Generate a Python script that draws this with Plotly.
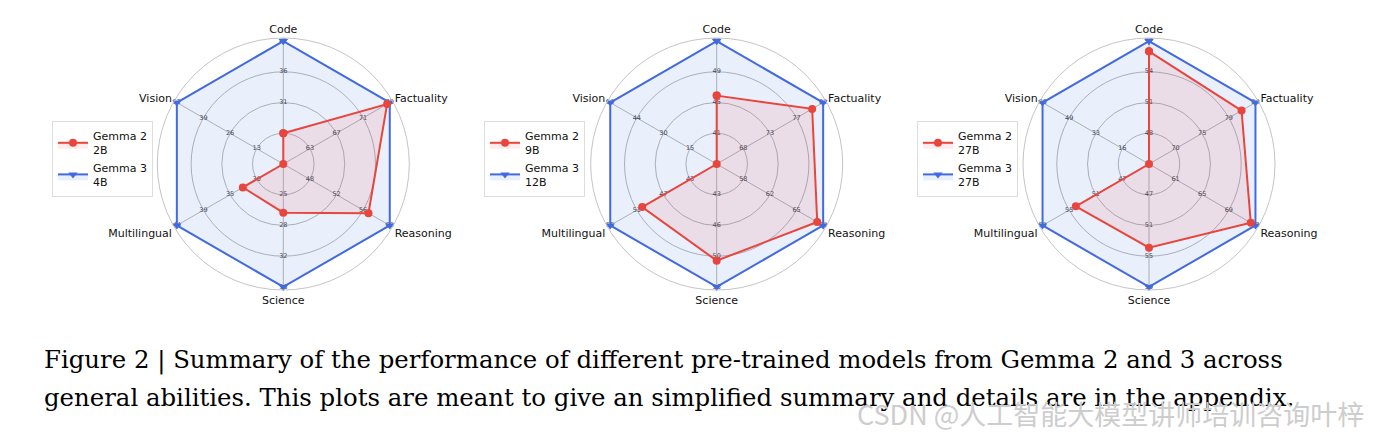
import plotly.graph_objects as go

categories = ["Code", "Factuality", "Reasoning", "Science", "Multilingual", "Vision"]

# Panel 1: Gemma 2 2B vs Gemma 3 4B
p1_names = ["Gemma 2<br>2B", "Gemma 3<br>4B"]
p1_lo = [21, 59, 44, 21.2, 25.5, 0]
p1_hi = [41, 75, 60, 35.6, 43.9, 52]
p1_ticks = [["26", "31", "36", "41"], ["63", "67", "71", "75"], ["48", "52", "56", "60"],
            ["25", "28", "32", "36"], ["30", "35", "39", "44"], ["13", "26", "39", "52"]]
p1_gemma2 = [26, 74.6, 56.8, 26.9, 32.5, 0]
p1_gemma3 = [41, 75, 60, 35.6, 43.9, 52]

# Panel 2: Gemma 2 9B vs Gemma 3 12B
p2_names = ["Gemma 2<br>9B", "Gemma 3<br>12B"]
p2_lo = [37, 63.5, 54.4, 39.5, 39, 0]
p2_hi = [53, 81.9, 68.8, 53.1, 55, 59]
p2_ticks = [["41", "45", "49", "53"], ["68", "73", "77", "82"], ["58", "62", "65", "69"],
            ["43", "46", "50", "53"], ["43", "47", "51", "55"], ["15", "30", "44", "59"]]
p2_gemma2 = [45.9, 80.0, 68.0, 50.2, 50.2, 0]
p2_gemma3 = [53, 81.9, 68.8, 53.1, 55, 59]

# Panel 3: Gemma 2 27B vs Gemma 3 27B
p3_names = ["Gemma 2<br>27B", "Gemma 3<br>27B"]
p3_lo = [45, 65.4, 57, 43, 43, 0]
p3_hi = [57, 83.8, 73, 59, 59, 66]
p3_ticks = [["48", "51", "54", "57"], ["70", "75", "79", "84"], ["61", "65", "69", "73"],
            ["47", "51", "55", "59"], ["47", "51", "55", "59"], ["16", "33", "49", "66"]]
p3_gemma2 = [56.0, 81.4, 72.3, 53.9, 54.0, 0]
p3_gemma3 = [57, 83.8, 73, 59, 59, 66]

ring_levels = [0.25, 0.5, 0.75, 1.0]

caption_1 = "Figure 2 | Summary of the performance of different pre-trained models from Gemma 2 and 3 across"
caption_2 = "general abilities. This plots are meant to give an simplified summary and details are in the appendix."
watermark = "CSDN @人工智能大模型讲师培训咨询叶梓"

RED = "#E8453C"
BLUE = "#4169E1"
W, H = 1374, 436

panels = [
    (p1_names, p1_lo, p1_hi, p1_ticks, p1_gemma2, p1_gemma3),
    (p2_names, p2_lo, p2_hi, p2_ticks, p2_gemma2, p2_gemma3),
    (p3_names, p3_lo, p3_hi, p3_ticks, p3_gemma2, p3_gemma3),
]
centers_x = [283.3, 716.7, 1149.0]
center_y = 164.0
outer_r = 126.0
legend_right = [153, 585, 1018]

fig = go.Figure()


def norm(vals, lo, hi):
    return [(v - l) / (h - l) for v, l, h in zip(vals, lo, hi)]


layout_extra = {}
for i, (names, lo, hi, ticks, g2, g3) in enumerate(panels):
    sp = "polar" if i == 0 else f"polar{i + 1}"
    lg = "legend" if i == 0 else f"legend{i + 1}"
    tr, tt, tx = [], [], []
    for c, cat in enumerate(categories):
        for k, lvl in enumerate(ring_levels):
            tr.append(lvl)
            tt.append(cat)
            tx.append(ticks[c][k])
    fig.add_trace(go.Scatterpolar(
        r=tr, theta=tt, text=tx, mode="text", subplot=sp, showlegend=False,
        textfont=dict(size=6.5, color="#444444", family="DejaVu Sans"),
        textposition="middle center", hoverinfo="skip"))
    r3 = norm(g3, lo, hi)
    r2 = norm(g2, lo, hi)
    fig.add_trace(go.Scatterpolar(
        r=r3 + r3[:1], theta=categories + categories[:1], subplot=sp, legend=lg,
        name=names[1], mode="lines+markers", fill="toself",
        fillcolor="rgba(65,105,225,0.11)",
        line=dict(color=BLUE, width=2),
        marker=dict(symbol="triangle-down", size=8, color=BLUE)))
    fig.add_trace(go.Scatterpolar(
        r=r2 + r2[:1], theta=categories + categories[:1], subplot=sp, legend=lg,
        name=names[0], mode="lines+markers", fill="toself",
        fillcolor="rgba(232,69,60,0.10)",
        line=dict(color=RED, width=2),
        marker=dict(symbol="circle", size=8, color=RED)))
    cx = centers_x[i]
    layout_extra[sp] = dict(
        domain=dict(x=[(cx - outer_r) / W, (cx + outer_r) / W],
                    y=[1 - (center_y + outer_r) / H, 1 - (center_y - outer_r) / H]),
        bgcolor="white",
        radialaxis=dict(range=[0, 1.025], tickvals=ring_levels[:3], showticklabels=False,
                        ticks="", showline=False, gridcolor="#b8b8b8", gridwidth=0.8),
        angularaxis=dict(rotation=90, direction="clockwise", categoryorder="array",
                         categoryarray=categories, gridcolor="#b8b8b8", gridwidth=0.8,
                         linecolor="#bdbdbd", linewidth=0.9, ticks="",
                         tickfont=dict(size=11, color="#111111", family="DejaVu Sans")),
    )
    layout_extra[lg] = dict(
        x=legend_right[i] / W, xanchor="right", y=1 - 159 / H, yanchor="middle",
        bgcolor="white", bordercolor="#dddddd", borderwidth=1,
        font=dict(size=11, color="#111111", family="DejaVu Sans"),
        traceorder="reversed", itemwidth=30, tracegroupgap=2)

fig.update_layout(
    width=W, height=H, margin=dict(l=0, r=0, t=0, b=0),
    paper_bgcolor="white", plot_bgcolor="white",
    **layout_extra,
)

fig.add_annotation(text=caption_1, xref="paper", yref="paper", x=42 / W, y=1 - 360 / H,
                   xanchor="left", yanchor="middle", showarrow=False,
                   font=dict(size=24.4, color="#000000", family="DejaVu Serif"))
fig.add_annotation(text=caption_2, xref="paper", yref="paper", x=42 / W, y=1 - 397 / H,
                   xanchor="left", yanchor="middle", showarrow=False,
                   font=dict(size=24.4, color="#000000", family="DejaVu Serif"))
fig.add_annotation(text=watermark, xref="paper", yref="paper", x=1366 / W, y=1 - 413 / H,
                   xanchor="right", yanchor="middle", showarrow=False,
                   font=dict(size=27, color="#cdcdcd", family="Noto Sans CJK SC"))

fig.write_html("out.html", config={"displayModeBar": False},
               post_script="document.body.style.margin='0px';")
